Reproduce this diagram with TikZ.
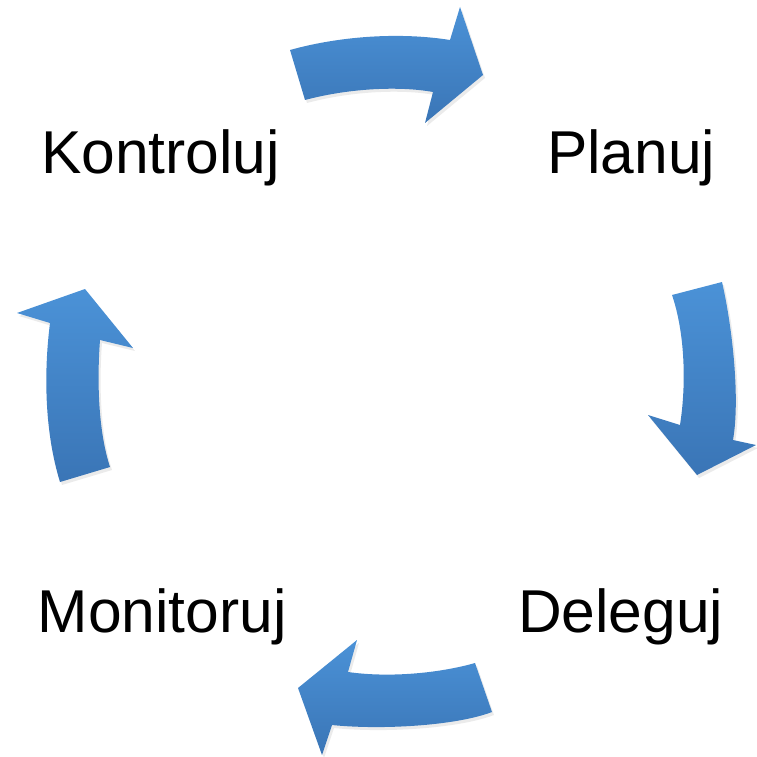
\documentclass[tikz,border=0pt]{standalone}
\usepackage{fontspec}
\setmainfont{Liberation Sans}
\definecolor{arrtop}{RGB}{75,146,215}
\definecolor{arrbot}{RGB}{58,117,182}
\newcommand\toparrowpath{(290,50) .. controls (340,36) and (400,32) .. (450,40) -- (460,7) -- (483,75) -- (425,123) -- (433,92) .. controls (400,86) and (350,88) .. (305,100) -- cycle}
\newcommand\rightarrowpath{(672,295) -- (722,282) .. controls (733,330) and (740,400) .. (733,440) -- (756,445) -- (697,475) -- (648,415) -- (680,425) .. controls (687,380) and (684,330) .. (672,295) -- cycle}
\newcommand\bottomarrowpath{(475,663) -- (492,712) .. controls (455,726) and (380,730) .. (332,725) -- (322,755) -- (298,688) -- (357,640) -- (348,672) .. controls (390,678) and (440,673) .. (475,663) -- cycle}
\newcommand\leftarrowpath{(60,482) -- (110,467) .. controls (98,430) and (97,380) .. (100,340) -- (133,348) -- (85,289) -- (17,313) -- (50,323) .. controls (44,370) and (44,430) .. (60,482) -- cycle}
\begin{document}
\begin{tikzpicture}[x=1pt,y=-1pt,
  lbl/.style={anchor=base west,inner sep=0pt,font=\fontsize{60.5}{72}\selectfont},
  cyc/.style={top color=arrtop,bottom color=arrbot,draw=none},
  shd/.style={fill=black,fill opacity=0.08,draw=none,shift={(2,3)}}]
\useasboundingbox (0,0) rectangle (756,757);
% shadows
\path[shd] \toparrowpath;
\path[shd] \rightarrowpath;
\path[shd] \bottomarrowpath;
\path[shd] \leftarrowpath;
% arrows
\path[cyc] \toparrowpath;
\path[cyc] \rightarrowpath;
\path[cyc] \bottomarrowpath;
\path[cyc] \leftarrowpath;
% labels
\node[lbl] (kontroluj) at (41,173) {Kontroluj};
\node[lbl] (planuj) at (547,173) {Planuj};
\node[lbl] (monitoruj) at (37.5,632) {Monitoruj};
\node[lbl] (deleguj) at (518,632) {Deleguj};
\end{tikzpicture}
\end{document}
